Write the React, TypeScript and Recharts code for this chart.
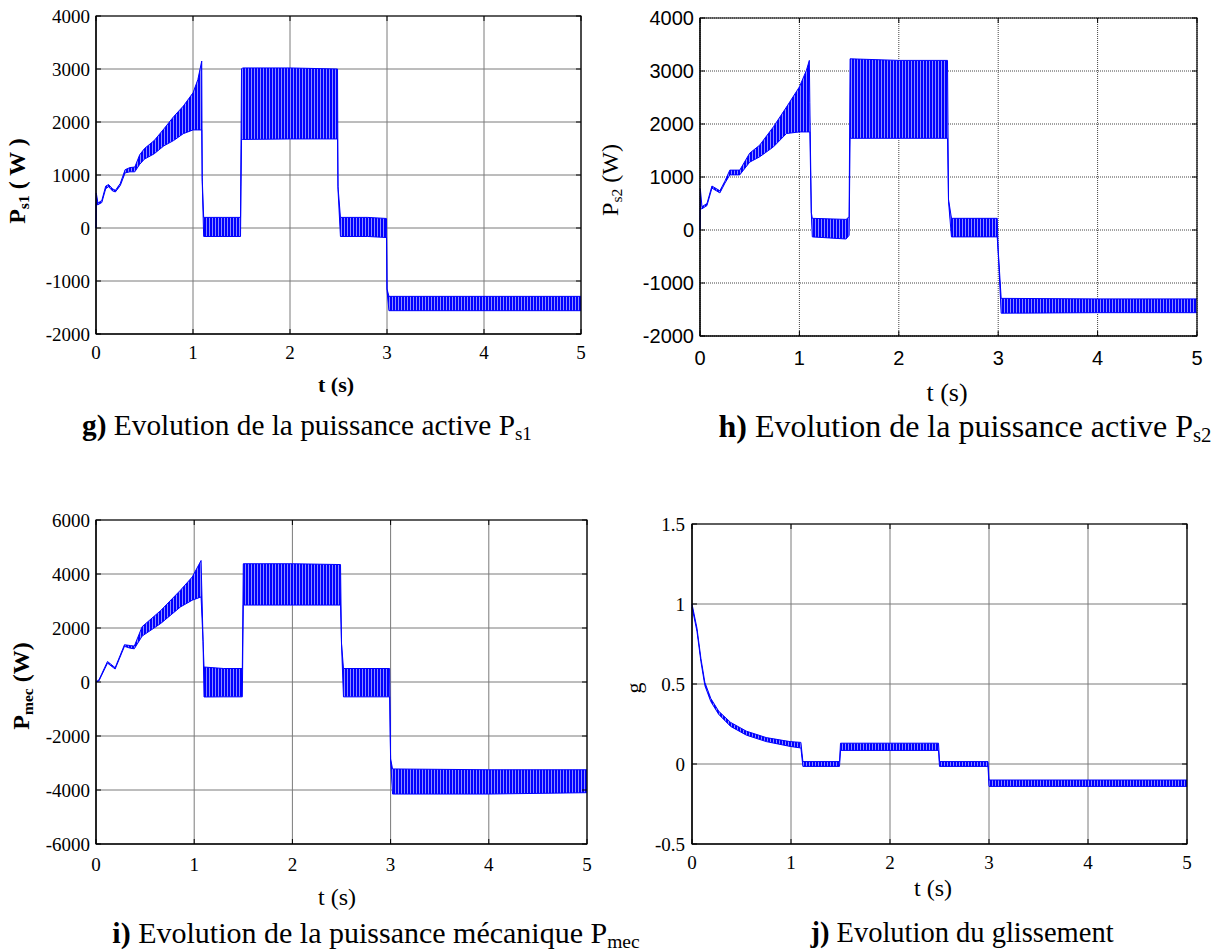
import React from "react";
import { ComposedChart, Area, XAxis, YAxis, CartesianGrid, ReferenceArea } from "recharts";

const tTicks = [0, 1, 2, 3, 4, 5];

// g) P_s1 envelope (low / high of the oscillating trace)
const ps1Time = [0, 0.003, 0.02, 0.06, 0.1, 0.13, 0.17, 0.2, 0.25, 0.3, 0.35, 0.4, 0.45, 0.5, 0.6, 0.7, 0.8, 0.9, 1.0, 1.05, 1.09, 1.095, 1.11, 1.3, 1.49, 1.5, 1.51, 2.0, 2.49, 2.495, 2.52, 2.8, 2.995, 3.0, 3.02, 4.0, 5.0];
const ps1Low = [0, 440, 440, 480, 740, 780, 700, 680, 800, 1040, 1060, 1060, 1200, 1300, 1400, 1550, 1650, 1780, 1850, 1850, 1850, 880, -160, -160, -160, 1650, 1670, 1680, 1680, 720, -160, -160, -180, -1180, -1560, -1560, -1560];
const ps1High = [0, 660, 470, 520, 790, 820, 740, 710, 840, 1100, 1140, 1150, 1380, 1500, 1650, 1870, 2100, 2300, 2550, 2800, 3150, 950, 200, 200, 200, 3000, 3020, 3020, 3000, 780, 200, 200, 180, -1150, -1290, -1290, -1290];
const ps1Ticks = [-2000, -1000, 0, 1000, 2000, 3000, 4000];

// h) P_s2
const ps2Time = [0, 0.003, 0.02, 0.07, 0.12, 0.2, 0.25, 0.3, 0.4, 0.5, 0.6, 0.74, 0.87, 1.0, 1.07, 1.1, 1.105, 1.12, 1.13, 1.47, 1.5, 1.51, 2.0, 2.49, 2.5, 2.53, 2.99, 3.0, 3.03, 4.0, 5.0];
const ps2Low = [0, 400, 400, 460, 790, 700, 880, 1040, 1040, 1280, 1380, 1570, 1820, 1850, 1850, 1850, 1850, 300, -130, -170, -100, 1730, 1730, 1730, 540, -130, -130, -420, -1570, -1560, -1560];
const ps2High = [0, 780, 440, 500, 830, 740, 920, 1130, 1130, 1450, 1600, 1950, 2320, 2700, 3010, 3200, 2400, 330, 220, 200, 250, 3230, 3200, 3200, 580, 220, 220, -380, -1290, -1300, -1300];
const ps2Ticks = [-2000, -1000, 0, 1000, 2000, 3000, 4000];

// i) P_mec
const pmecTime = [0, 0.03, 0.117, 0.195, 0.29, 0.35, 0.39, 0.47, 0.66, 0.86, 0.98, 1.07, 1.09, 1.1, 1.3, 1.49, 1.5, 2.0, 2.49, 2.5, 2.52, 2.99, 3.0, 3.02, 4.0, 5.0];
const pmecLow = [0, 40, 700, 480, 1320, 1250, 1230, 1700, 2170, 2780, 3030, 3150, 1500, -555, -550, -550, 2850, 2850, 2850, 1400, -550, -550, -2900, -4150, -4150, -4100];
const pmecHigh = [0, 80, 760, 530, 1380, 1350, 1330, 2050, 2650, 3400, 3890, 4500, 1560, 555, 500, 500, 4380, 4380, 4350, 1440, 500, 500, -2850, -3220, -3250, -3250];
const pmecTicks = [-6000, -4000, -2000, 0, 2000, 4000, 6000];

// j) glissement g
const slipTime = [0, 0.05, 0.09, 0.13, 0.19, 0.27, 0.39, 0.55, 0.75, 0.99, 1.1, 1.12, 1.49, 1.5, 2.49, 2.5, 2.99, 3.0, 5.0];
const slipLow = [0.98, 0.83, 0.64, 0.49, 0.39, 0.31, 0.235, 0.18, 0.14, 0.11, 0.1, -0.015, -0.015, 0.085, 0.085, -0.015, -0.015, -0.14, -0.14];
const slipHigh = [1.0, 0.85, 0.66, 0.51, 0.41, 0.33, 0.26, 0.205, 0.165, 0.14, 0.135, 0.015, 0.015, 0.13, 0.13, 0.015, 0.015, -0.1, -0.1];
const slipTicks = [-0.5, 0, 0.5, 1, 1.5];

const SERIF = "Liberation Serif";
const SANS = "Liberation Sans";
const BLUE = "#0000ff";

function toRows(time: number[], low: number[], high: number[]) {
  return time.map((t, i) => ({ t, band: [low[i], high[i]] }));
}

interface PanelProps {
  id: string;
  left: number;
  top: number;
  width: number;
  plotBottom: number;
  marginTop: number;
  yWidth: number;
  rows: Array<Record<string, any>>;
  yTicks: number[];
  font: string;
  fontSize: number;
  xTickMargin: number;
  yTickMargin: number;
  dotted?: boolean;
}

function Panel({ id, left, top, width, plotBottom, marginTop, yWidth, rows, yTicks, font, fontSize, xTickMargin, yTickMargin, dotted }: PanelProps) {
  const yMin = yTicks[0];
  const yMax = yTicks[yTicks.length - 1];
  const xAxisHeight = 44;
  const plotRight = width - 10;
  const tl = 5; // inward tick length, MATLAB style

  // bottom axis labels + inward ticks on bottom and top edges
  const xTick = (p: any) => (
    <g>
      <line x1={p.x} x2={p.x} y1={plotBottom} y2={plotBottom - tl} stroke="#000" />
      <line x1={p.x} x2={p.x} y1={marginTop} y2={marginTop + tl} stroke="#000" />
      <text x={p.x} y={p.y} dy="0.71em" textAnchor="middle" fill="#000" fontSize={fontSize} fontFamily={font}>
        {String(p.payload.value)}
      </text>
    </g>
  );
  // left axis labels + inward ticks on left and right edges
  const yTick = (p: any) => (
    <g>
      <line x1={yWidth} x2={yWidth + tl} y1={p.y} y2={p.y} stroke="#000" />
      <line x1={plotRight} x2={plotRight - tl} y1={p.y} y2={p.y} stroke="#000" />
      <text x={p.x} y={p.y} dy="0.355em" textAnchor="end" fill="#000" fontSize={fontSize} fontFamily={font}>
        {String(p.payload.value)}
      </text>
    </g>
  );

  return (
    <div style={{ position: "absolute", left, top }}>
      <ComposedChart width={width} height={plotBottom + xAxisHeight} data={rows} margin={{ top: marginTop, right: 10, bottom: 0, left: 0 }}>
        <defs>
          <pattern id={`stripes-${id}`} width="3" height="8" patternUnits="userSpaceOnUse">
            <rect x="0" y="0" width="2" height="8" fill={BLUE} />
            <rect x="2" y="0" width="1" height="8" fill="#8c8cff" />
          </pattern>
        </defs>
        <CartesianGrid stroke={dotted ? "#444" : "#7a7a7a"} strokeDasharray={dotted ? "1 1" : undefined} strokeWidth={1} />
        <XAxis
          dataKey="t"
          type="number"
          domain={[0, 5]}
          ticks={tTicks}
          height={xAxisHeight}
          tickSize={0}
          tickMargin={xTickMargin}
          tickLine={false}
          axisLine={{ stroke: "#000" }}
          tick={xTick}
          interval={0}
        />
        <YAxis
          type="number"
          domain={[yMin, yMax]}
          ticks={yTicks}
          width={yWidth}
          tickSize={0}
          tickMargin={yTickMargin}
          tickLine={false}
          axisLine={{ stroke: "#000" }}
          tick={yTick}
          interval={0}
        />
        <Area
          type="linear"
          dataKey="band"
          stroke={BLUE}
          strokeWidth={1}
          fill={`url(#stripes-${id})`}
          fillOpacity={1}
          isAnimationActive={false}
          dot={false}
          activeDot={false}
        />
        <ReferenceArea x1={0} x2={5} y1={yMin} y2={yMax} fill="none" stroke="#000" strokeWidth={1.2} />
      </ComposedChart>
    </div>
  );
}

function Txt({ x, y, size, font, bold, rotate, children }: any) {
  return (
    <div
      style={{
        position: "absolute",
        left: x,
        top: y,
        transform: `translate(-50%, -50%)${rotate ? " rotate(-90deg)" : ""}`,
        fontFamily: font,
        fontSize: size,
        fontWeight: bold ? "bold" : "normal",
        whiteSpace: "nowrap",
        lineHeight: 1,
        color: "#000",
      }}
    >
      {children}
    </div>
  );
}

const sub = { fontSize: "0.65em", verticalAlign: "-0.25em", lineHeight: 0 };

export default function App() {
  return (
    <div style={{ position: "fixed", left: 0, top: 0, width: 1218, height: 951, background: "#fff", overflow: "hidden", fontFamily: SERIF }}>
      <Panel id="g" left={0} top={0} width={591} plotBottom={334} marginTop={16} yWidth={96} rows={toRows(ps1Time, ps1Low, ps1High)} yTicks={ps1Ticks} font={SERIF} fontSize={19} xTickMargin={12} yTickMargin={6} />
      <Panel id="h" left={600} top={0} width={607} plotBottom={336} marginTop={18} yWidth={100} rows={toRows(ps2Time, ps2Low, ps2High)} yTicks={ps2Ticks} font={SANS} fontSize={20} xTickMargin={15} yTickMargin={6} dotted />
      <Panel id="i" left={0} top={490} width={597} plotBottom={354} marginTop={30} yWidth={96} rows={toRows(pmecTime, pmecLow, pmecHigh)} yTicks={pmecTicks} font={SERIF} fontSize={19} xTickMargin={14} yTickMargin={6} />
      <Panel id="j" left={600} top={490} width={597} plotBottom={354} marginTop={34} yWidth={92} rows={toRows(slipTime, slipLow, slipHigh)} yTicks={slipTicks} font={SERIF} fontSize={19} xTickMargin={12} yTickMargin={7} />

      {/* axis titles */}
      <Txt x={17} y={181} size={24} font={SERIF} bold rotate>P<span style={sub}>s1</span> ( W )</Txt>
      <Txt x={336} y={385} size={22} font={SERIF} bold>t (s)</Txt>
      <Txt x={610} y={180} size={24} font={SERIF} rotate>P<span style={sub}>s2</span> (W)</Txt>
      <Txt x={947} y={393} size={26} font={SERIF}>t (s)</Txt>
      <Txt x={21} y={686} size={24} font={SERIF} bold rotate>P<span style={sub}>mec</span> (W)</Txt>
      <Txt x={337} y={897} size={24} font={SERIF}>t (s)</Txt>
      <Txt x={634} y={688} size={22} font={SERIF} rotate>g</Txt>
      <Txt x={933} y={888} size={24} font={SERIF}>t (s)</Txt>

      {/* captions */}
      <Txt x={307} y={426} size={29.3} font={SERIF}><b>g)</b> Evolution de la puissance active P<span style={sub}>s1</span></Txt>
      <Txt x={965} y={426} size={32} font={SERIF}><b>h)</b> Evolution de la puissance active P<span style={sub}>s2</span></Txt>
      <Txt x={376} y={933} size={30} font={SERIF}><b>i)</b> Evolution de la puissance mécanique P<span style={sub}>mec</span></Txt>
      <Txt x={962} y={933} size={28.5} font={SERIF}><b>j)</b> Evolution du glissement</Txt>
    </div>
  );
}
